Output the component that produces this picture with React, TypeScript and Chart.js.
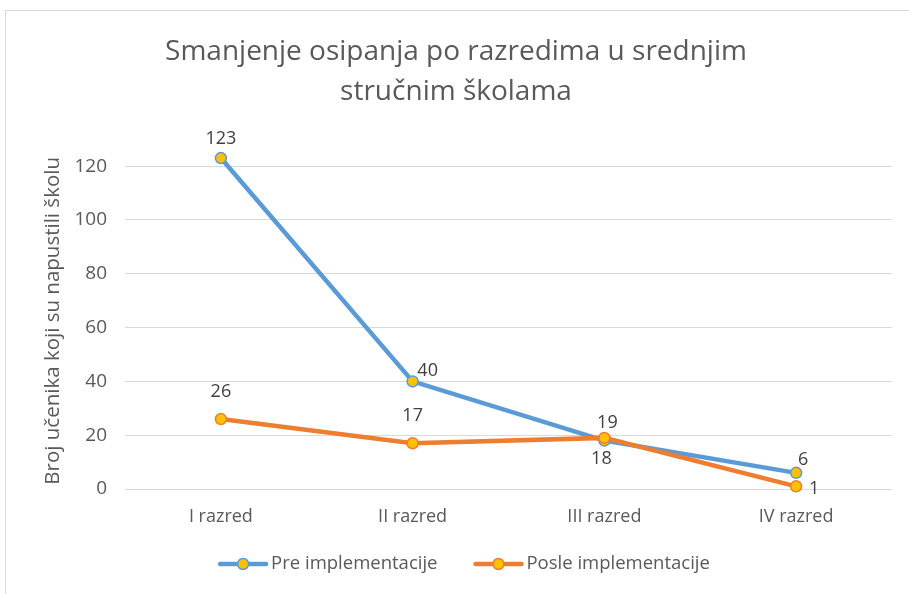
import React, { useEffect, useRef } from "react";
import { Chart, registerables } from "chart.js";

Chart.register(...registerables);

const categories = ["I razred", "II razred", "III razred", "IV razred"];
const seriesNames = ["Pre implementacije", "Posle implementacije"];
const preValues = [123, 40, 18, 6];
const posleValues = [26, 17, 19, 1];
const yTicks = [0, 20, 40, 60, 80, 100, 120];

const titleLines = ["Smanjenje osipanja po razredima u srednjim", "stručnim školama"];
const yAxisTitle = "Broj učenika koji su napustili školu";

const BLUE = "#5B9BD5";
const ORANGE = "#ED7D31";
const MARKER = "#FFC000";
const TEXT = "#595959";
const FONT = "'Open Sans', sans-serif";

// label offsets (style only) relative to each point
const labelOffsets = [
  [[0, -19], [15, -11], [-3, 18], [7, -13]],
  [[0, -27], [0, -27], [3, -15], [18, 3]],
];

const frameAndLabels = {
  id: "frameAndLabels",
  beforeDraw(chart: any) {
    const ctx = chart.ctx;
    ctx.save();
    ctx.fillStyle = "#ffffff";
    ctx.fillRect(0, 0, chart.width, chart.height);
    ctx.strokeStyle = "#D9D9D9";
    ctx.lineWidth = 1;
    ctx.strokeRect(5.5, 10.5, chart.width + 20, chart.height + 20);
    ctx.restore();
  },
  afterDatasetsDraw(chart: any) {
    const ctx = chart.ctx;
    ctx.save();
    ctx.font = `18px ${FONT}`;
    ctx.fillStyle = "#404040";
    ctx.textAlign = "center";
    ctx.textBaseline = "middle";
    chart.data.datasets.forEach((ds: any, di: number) => {
      const meta = chart.getDatasetMeta(di);
      meta.data.forEach((pt: any, i: number) => {
        const off = labelOffsets[di][i];
        ctx.fillText(String(ds.data[i]), pt.x + off[0], pt.y + off[1]);
      });
    });
    ctx.restore();
  },
  afterDraw(chart: any) {
    const ctx = chart.ctx;
    ctx.save();
    ctx.font = `18.5px ${FONT}`;
    const lineW = 50;
    const gapText = 3;
    const gapItem = 36;
    const colors = [BLUE, ORANGE];
    const widths = seriesNames.map((n) => ctx.measureText(n).width);
    const total = widths.reduce((a, w) => a + lineW + gapText + w, 0) + gapItem * (seriesNames.length - 1);
    let x = 464 - total / 2;
    const y = 564;
    seriesNames.forEach((name, i) => {
      ctx.strokeStyle = colors[i];
      ctx.lineWidth = 4.5;
      ctx.lineCap = "round";
      ctx.beginPath();
      ctx.moveTo(x + 2, y);
      ctx.lineTo(x + lineW - 2, y);
      ctx.stroke();
      ctx.beginPath();
      ctx.arc(x + lineW / 2, y, 5.5, 0, Math.PI * 2);
      ctx.fillStyle = MARKER;
      ctx.fill();
      ctx.lineWidth = 1.5;
      ctx.stroke();
      ctx.fillStyle = TEXT;
      ctx.textAlign = "left";
      ctx.textBaseline = "middle";
      ctx.fillText(name, x + lineW + gapText, y);
      x += lineW + gapText + widths[i] + gapItem;
    });
    ctx.restore();
  },
};

export default function App() {
  const ref = useRef<HTMLCanvasElement>(null);
  useEffect(() => {
    if (!ref.current) return;
    const chart = new Chart(ref.current, {
      type: "line",
      data: {
        labels: categories,
        datasets: [
          {
            label: seriesNames[0],
            data: preValues,
            borderColor: BLUE,
            borderWidth: 4.5,
            pointBackgroundColor: MARKER,
            pointBorderColor: BLUE,
            pointBorderWidth: 1.5,
            pointRadius: 5.5,
            clip: false as any,
            order: 2,
            tension: 0,
          },
          {
            label: seriesNames[1],
            data: posleValues,
            borderColor: ORANGE,
            borderWidth: 4.5,
            pointBackgroundColor: MARKER,
            pointBorderColor: ORANGE,
            pointBorderWidth: 1.5,
            pointRadius: 5.5,
            clip: false as any,
            order: 1,
            tension: 0,
          },
        ],
      },
      options: {
        responsive: false,
        animation: false,
        layout: { padding: { left: 20, right: 17, top: 20, bottom: 64 } },
        plugins: {
          legend: { display: false },
          tooltip: { enabled: false },
          title: {
            display: true,
            text: titleLines,
            color: TEXT,
            font: { family: FONT, size: 28, weight: "normal" as any, lineHeight: 1.43 },
            padding: { top: 12, bottom: 40.6 },
          },
        },
        scales: {
          x: {
            offset: true,
            grid: { display: false, drawTicks: false },
            border: { display: false },
            ticks: { color: TEXT, font: { family: FONT, size: 18 }, padding: 17 },
            afterFit: (scale: any) => {
              scale.height = 41;
            },
          },
          y: {
            min: 0,
            max: 125,
            afterBuildTicks: (scale: any) => {
              scale.ticks = yTicks.map((v) => ({ value: v }));
            },
            grid: { color: "#D9D9D9", lineWidth: 1, drawTicks: false },
            border: { display: false },
            ticks: { color: TEXT, font: { family: FONT, size: 19 }, padding: 18 },
            title: {
              display: true,
              text: yAxisTitle,
              color: TEXT,
              font: { family: FONT, size: 20.5, lineHeight: 1.2 },
              padding: { top: 20.7, bottom: 4 },
            },
            afterFit: (scale: any) => {
              scale.width = 105;
            },
          },
        },
      },
      plugins: [frameAndLabels],
    });
    return () => chart.destroy();
  }, []);
  return (
    <div style={{ position: "absolute", left: 0, top: 0, width: 909, height: 594 }}>
      <canvas ref={ref} width={909} height={594} />
    </div>
  );
}
